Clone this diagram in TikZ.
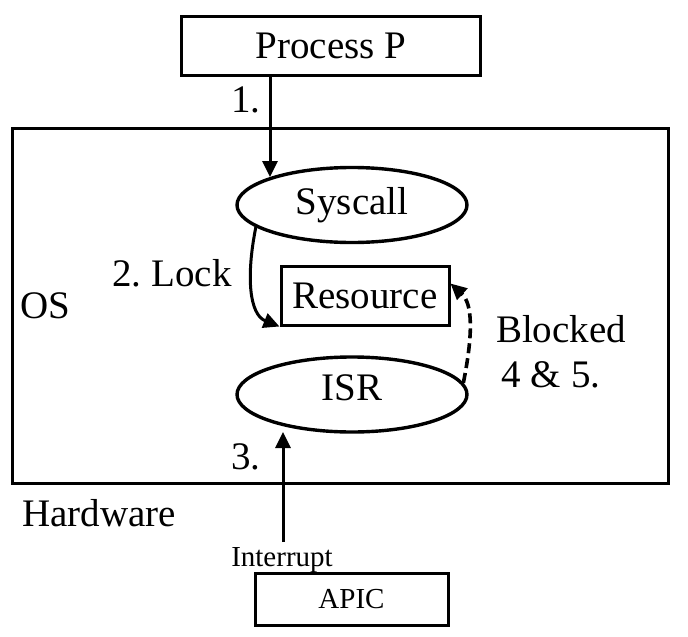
\documentclass[tikz,border=0pt]{standalone}
\usepackage{fontspec}
\setmainfont{Liberation Serif}
\usetikzlibrary{shapes.geometric,arrows.meta}

\tikzset{
    box/.style={draw, line width=3pt, inner sep=0pt},
    oval/.style={ellipse, draw, line width=3.4pt, inner sep=0pt,
        minimum width=230pt, minimum height=75pt},
    big/.style={font=\fontsize{39}{44}\selectfont},
    small/.style={font=\fontsize{29}{33}\selectfont},
    arr/.style={line width=3pt, -{Triangle[length=16pt,width=15pt]}},
}

\begin{document}
\begin{tikzpicture}[x=1pt,y=-1pt]
    \useasboundingbox (0,0) rectangle (688,637);
    \node[box, big, minimum width=299pt, minimum height=59pt] (proc) at (331,45.5) {Process P};
    \node[box, minimum width=656pt, minimum height=355pt] (os) at (340,305.5) {};
    \node[oval, big] (sys) at (352,205) {Syscall};
    \node[box, big, minimum width=168pt, minimum height=59pt] (res) at (365,295.5) {Resource};
    \node[oval, big, text depth=14pt] (isr) at (352,394.5) {ISR};
    \node[box, small, minimum width=193pt, minimum height=52pt] (apic) at (351.5,599) {APIC};
    \node[big] (one) at (246,100) {1.};
    \node[big] (lock) at (172,273) {2.\ Lock};
    \node[big] (oslbl) at (45,306) {OS};
    \node[big] (blk) at (561,329) {Blocked};
    \node[big] (blk2) at (551,375) {4 \& 5.};
    \node[big] (three) at (246,457) {3.};
    \node[big] (hw) at (99,513) {Hardware};
    \node[small, inner sep=5pt] (intr) at (282,560) {Interrupt};
    \coordinate (p1) at (270,177);
    \coordinate (p3) at (283,432);
    \draw[arr] (proc.south -| p1) -- (p1);
    \draw[arr] (sys.193) .. controls +(-10,50) and +(-30,-12) .. (res.south west);
    \draw[arr, line width=3.6pt, dash pattern=on 10pt off 5pt] (isr.6) .. controls +(10,-50) and +(22,20) .. (res.8);
    \draw[arr] (intr.north -| p3) -- (p3);
\end{tikzpicture}
\end{document}
